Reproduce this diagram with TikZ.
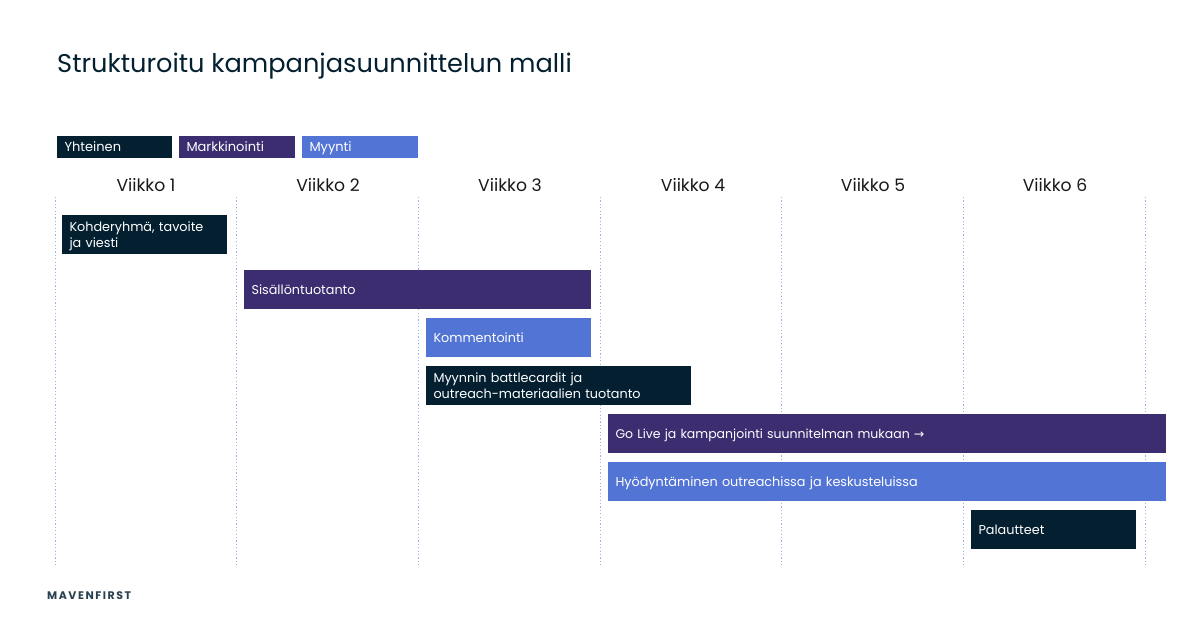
\documentclass[tikz,border=0pt]{standalone}
\usepackage{fontspec}
\setmainfont{Poppins}
\newfontfamily\arrowfont{DejaVu Sans}
\definecolor{cdark}{HTML}{031F30}
\definecolor{cpurple}{HTML}{3C2C70}
\definecolor{cblue}{HTML}{5274D4}
\definecolor{cdot}{HTML}{9DB3E8}
\begin{document}
\begin{tikzpicture}[x=1pt,y=-1pt,
  bar/.style={anchor=north west,draw=none,text=white,inner sep=0pt,outer sep=0pt,minimum height=39pt,align=left,text height=12pt,text depth=3pt,font=\fontsize{12.8}{16}\selectfont},
  twolines/.style={text depth=19pt},
  legend/.style={anchor=north west,text=white,inner sep=0pt,outer sep=0pt,minimum height=21.5pt,align=left,text height=12pt,text depth=3pt,font=\fontsize{13}{16}\selectfont},
  week/.style={anchor=base,text=black!90,inner sep=0pt,font=\fontsize{17.2}{20}\selectfont},
  gridline/.style={cdot,dash pattern=on 1.2pt off 2.2pt,line width=1pt}]
\useasboundingbox (0,0) rectangle (1200,627);
\fill[white] (0,0) rectangle (1200,627);
\node[anchor=base west,inner sep=0pt,text=cdark,font=\fontsize{25.65}{30}\selectfont] (title) at (57,72.5) {Strukturoitu kampanjasuunnittelun malli};
\foreach \n/\x in {a/55.5,b/236.5,c/418.5,d/600.5,e/781.5,f/963.5,g/1145.5}{
  \coordinate (t\n) at (\x,197);
  \coordinate (u\n) at (\x,567);
  \draw[gridline] (t\n) -- (u\n);
}
\node[week] (w1) at (146,191) {Viikko 1};
\node[week] (w2) at (328,191) {Viikko 2};
\node[week] (w3) at (510,191) {Viikko 3};
\node[week] (w4) at (693,191) {Viikko 4};
\node[week] (w5) at (873,191) {Viikko 5};
\node[week] (w6) at (1055,191) {Viikko 6};
\node[legend,fill=cdark,minimum width=115pt,text width=100pt] (l1) at (57,136) {Yhteinen};
\node[legend,fill=cpurple,minimum width=116pt,text width=101pt] (l2) at (179,136) {Markkinointi};
\node[legend,fill=cblue,minimum width=116pt,text width=101pt] (l3) at (302,136) {Myynti};
\node[bar,twolines,fill=cdark,minimum width=165pt,text width=150pt] (b1) at (62,215) {Kohderyhmä, tavoite\\ja viesti};
\node[bar,fill=cpurple,minimum width=347pt,text width=332pt] (b2) at (244,270) {Sisällöntuotanto};
\node[bar,fill=cblue,minimum width=165pt,text width=150pt] (b3) at (426,318) {Kommentointi};
\node[bar,twolines,fill=cdark,minimum width=265pt,text width=250pt] (b4) at (426,366) {Myynnin battlecardit ja\\outreach-materiaalien tuotanto};
\node[bar,fill=cpurple,minimum width=558pt,text width=543pt,font=\fontsize{12.5}{16}\selectfont] (b5) at (608,414) {Go Live ja kampanjointi suunnitelman mukaan {\arrowfont →}};
\node[bar,fill=cblue,minimum width=558pt,text width=543pt] (b6) at (608,462) {Hyödyntäminen outreachissa ja keskusteluissa};
\node[bar,fill=cdark,minimum width=165pt,text width=150pt] (b7) at (971,510) {Palautteet};
\node[anchor=base west,inner sep=0pt,text=cdark!85,font=\fontsize{11}{12}\selectfont\bfseries] (logo) at (47,599.5) {\addfontfeature{LetterSpace=14}MAVENFIRST};
\end{tikzpicture}
\end{document}
